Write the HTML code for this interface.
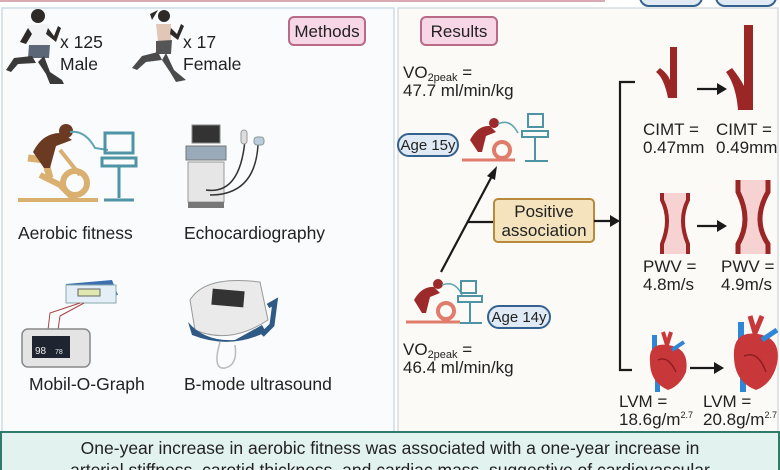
<!DOCTYPE html>
<html><head><meta charset="utf-8"><style>
html,body{margin:0;padding:0;background:#fff;}
svg{display:block;font-family:"Liberation Sans",Arial,sans-serif;}
</style></head><body>
<svg width="780" height="470" viewBox="0 0 780 470" xmlns="http://www.w3.org/2000/svg">
<rect width="780" height="470" fill="#ffffff"/>
<rect x="0" y="0" width="605" height="2" fill="#d9a9b4"/>
<rect x="640" y="-12" width="62" height="18" rx="9" fill="#dfeaf5" stroke="#35618f" stroke-width="2"/>
<rect x="716" y="-12" width="60" height="18" rx="9" fill="#dfeaf5" stroke="#35618f" stroke-width="2"/>
<rect x="2" y="8" width="392" height="428" fill="#f9fbfc" stroke="#cfdbe4" stroke-width="1.5"/>
<rect x="398" y="8" width="380" height="428" fill="#fcfaf6" stroke="#d8dde2" stroke-width="1.5"/>

<!-- male runner -->
<g>
<circle cx="38" cy="16" r="7" fill="#2e2a28"/>
<path d="M27 25 L48 24 L50 45 L30 47 Z" fill="#f1f3f5"/>
<path d="M29 45 L50 45 L49 58 L28 58 Z" fill="#5b6776"/>
<path d="M32 56 L14 58 L6 70 L11 72 L18 64 L36 63 Z" fill="#3a3a3a"/>
<path d="M44 56 L50 72 L62 80 L64 84 L50 84 L46 74 L38 62 Z" fill="#3a3a3a"/>
<path d="M48 28 L54 36 L58 26 L61 28 L56 42 L46 34 Z" fill="#2e2a28"/>
<path d="M28 28 L20 42 L26 44 L32 34 Z" fill="#2e2a28"/>
</g>
<text x="60" y="48" font-size="17.5" fill="#222">x 125</text>
<text x="60" y="70" font-size="17.5" fill="#222">Male</text>
<!-- female runner -->
<g>
<circle cx="164" cy="16" r="6" fill="#2e2a28"/>
<path d="M158 10 L150 14 L152 20 Z" fill="#2e2a28"/>
<path d="M156 24 L171 24 L171 40 L158 42 Z" fill="#e2c6b6"/>
<path d="M156 41 L172 40 L171 54 L156 54 Z" fill="#555"/>
<path d="M158 52 L142 56 L132 68 L137 70 L146 62 L162 60 Z" fill="#4b4b4b"/>
<path d="M166 53 L174 70 L186 80 L176 82 L170 72 L162 60 Z" fill="#4b4b4b"/>
<path d="M171 28 L177 34 L181 24 L184 26 L178 40 L170 34 Z" fill="#2e2a28"/>
</g>
<text x="183" y="48" font-size="17.5" fill="#222">x 17</text>
<text x="183" y="70" font-size="17.5" fill="#222">Female</text>
<rect x="289" y="17" width="76" height="28" rx="5" fill="#f7d6e6" stroke="#b86a86" stroke-width="2"/>
<text x="327" y="37" font-size="17" fill="#222" text-anchor="middle">Methods</text>

<!-- aerobic bike -->
<g>
<path d="M18 200 L98 200" stroke="#d9b070" stroke-width="4"/>
<path d="M40 175 L60 185 L75 200" stroke="#d9b070" stroke-width="6" fill="none"/>
<circle cx="75" cy="183" r="12" fill="none" stroke="#d9b070" stroke-width="6"/>
<path d="M28 158 L45 160 L50 178" stroke="#d9b070" stroke-width="7" fill="none"/>
<path d="M60 150 L80 175" stroke="#d9b070" stroke-width="4"/>
<path d="M33 152 Q43 132 62 133 L72 140 L56 146 L50 168 L44 168 Z" fill="#6b3a22"/>
<circle cx="66" cy="131" r="7" fill="#6b3a22"/>
<path d="M70 132 Q85 130 95 148 L108 150" stroke="#5fa3b3" stroke-width="2" fill="none"/>
<rect x="105" y="133" width="28" height="20" fill="none" stroke="#4e94a4" stroke-width="3"/>
<rect x="102" y="158" width="34" height="8" fill="none" stroke="#4e94a4" stroke-width="3"/>
<path d="M119 166 L119 198 M104 200 L134 200" stroke="#4e94a4" stroke-width="3"/>
</g>
<text x="18" y="239" font-size="17.5" fill="#222">Aerobic fitness</text>
<!-- echo -->
<g>
<rect x="192" y="125" width="28" height="18" fill="#333" stroke="#888"/>
<rect x="186" y="146" width="40" height="14" fill="#9ab" stroke="#777"/>
<rect x="188" y="162" width="36" height="40" fill="#e6e6e6" stroke="#999"/>
<rect x="188" y="202" width="36" height="6" fill="#777"/>
<path d="M206 190 Q240 195 245 140 M210 195 Q255 195 258 145" stroke="#333" stroke-width="1.5" fill="none"/>
<rect x="241" y="130" width="6" height="14" rx="3" fill="#ddd" stroke="#999"/>
<rect x="254" y="137" width="10" height="8" rx="3" fill="#bcd" stroke="#899"/>
</g>
<text x="184" y="239" font-size="17.5" fill="#222">Echocardiography</text>
<!-- mobil-o-graph -->
<g>
<path d="M66 284 L112 280 L118 295 L68 300 Z" fill="#3c6fb0"/>
<rect x="66" y="285" width="50" height="18" fill="#e4eef7" stroke="#8aa"/>
<rect x="78" y="289" width="22" height="7" fill="#dfe8b0" stroke="#666"/>
<path d="M80 303 L50 313 L48 330 M84 303 L60 316 L58 330" stroke="#a44" stroke-width="1" fill="none"/>
<rect x="22" y="329" width="68" height="38" rx="6" fill="#e4e4e4" stroke="#888" stroke-width="1.5"/>
<rect x="32" y="336" width="38" height="22" fill="#1e2430"/>
<text x="35" y="354" font-size="10" fill="#eee">98</text><text x="55" y="354" font-size="7" fill="#eee">78</text>
</g>
<text x="29" y="390" font-size="17.5" fill="#222">Mobil-O-Graph</text>
<!-- b-mode -->
<g>
<path d="M190 300 Q205 275 260 282 L268 320 Q230 345 195 330 Z" fill="#eaeaea" stroke="#999"/>
<rect x="212" y="290" width="32" height="16" fill="#333" transform="rotate(5 228 298)"/>
<path d="M188 322 Q205 342 235 340 L262 325 L266 332 Q230 350 192 335 Z" fill="#2f5a86"/>
<path d="M268 306 L275 302 L272 325 L262 335" stroke="#2f5a86" stroke-width="5" fill="none"/>
<path d="M220 342 Q212 370 225 368 Q238 365 235 345" stroke="#bbb" stroke-width="1.5" fill="none"/>
</g>
<text x="184" y="390" font-size="17.5" fill="#222">B-mode ultrasound</text>

<!-- RIGHT -->
<rect x="421" y="17" width="76" height="28" rx="5" fill="#f7d6e6" stroke="#b86a86" stroke-width="2"/>
<text x="459" y="37" font-size="17" fill="#222" text-anchor="middle">Results</text>
<text x="403" y="78" font-size="17" fill="#222">VO<tspan font-size="11" dy="3">2peak</tspan><tspan dy="-3"> =</tspan></text>
<text x="403" y="96" font-size="17" fill="#222">47.7 ml/min/kg</text>
<rect x="398" y="134" width="60" height="22" rx="11" fill="#dfeaf5" stroke="#35618f" stroke-width="2"/>
<text x="428" y="150" font-size="15" fill="#222" text-anchor="middle">Age 15y</text>
<g>
<path d="M462 160 L515 160" stroke="#e07c6c" stroke-width="3"/>
<circle cx="502" cy="150" r="8" fill="none" stroke="#e07c6c" stroke-width="4"/>
<path d="M470 140 Q478 125 490 126 L496 132 L486 136 L482 152 L478 152 Z" fill="#9c2a2a"/>
<circle cx="494" cy="123" r="5" fill="#9c2a2a"/>
<path d="M498 124 Q510 118 518 133" stroke="#5fa3b3" stroke-width="1.5" fill="none"/>
<rect x="528" y="114" width="15" height="13" fill="none" stroke="#4e94a4" stroke-width="2"/>
<rect x="522" y="131" width="26" height="6" fill="none" stroke="#4e94a4" stroke-width="2"/>
<path d="M535 137 L535 160 M525 161 L548 161" stroke="#4e94a4" stroke-width="2"/>
</g>
<path d="M441 272 L492 176" stroke="#1a1a1a" stroke-width="2.2"/>
<path d="M497 166 L487 176 L495 180 Z" fill="#1a1a1a"/>
<path d="M467 222 L494 222" stroke="#1a1a1a" stroke-width="2.2"/>
<rect x="494" y="199" width="100" height="43" rx="4" fill="#f4e3bd" stroke="#b88a3c" stroke-width="2"/>
<text x="544" y="217" font-size="17" fill="#222" text-anchor="middle">Positive</text>
<text x="544" y="236" font-size="17" fill="#222" text-anchor="middle">association</text>
<path d="M594 221 L612 221" stroke="#1a1a1a" stroke-width="2.2"/>
<path d="M620 221 L610 215 L610 227 Z" fill="#1a1a1a"/>
<path d="M635 82 L620 82 L620 370 L632 370" stroke="#1a1a1a" stroke-width="2.2" fill="none"/>
<g>
<path d="M406 322 L460 322" stroke="#e07c6c" stroke-width="3"/>
<circle cx="446" cy="311" r="8" fill="none" stroke="#e07c6c" stroke-width="4"/>
<path d="M414 300 Q422 286 434 287 L440 293 L430 297 L426 313 L422 313 Z" fill="#9c2a2a"/>
<circle cx="438" cy="284" r="5" fill="#9c2a2a"/>
<path d="M442 285 Q455 280 462 295" stroke="#5fa3b3" stroke-width="1.5" fill="none"/>
<rect x="461" y="281" width="15" height="12" fill="none" stroke="#4e94a4" stroke-width="2"/>
<rect x="458" y="296" width="24" height="6" fill="none" stroke="#4e94a4" stroke-width="2"/>
<path d="M470 302 L470 322 M460 323 L482 323" stroke="#4e94a4" stroke-width="2"/>
</g>
<rect x="488" y="306" width="62" height="22" rx="11" fill="#dfeaf5" stroke="#35618f" stroke-width="2"/>
<text x="519" y="322" font-size="15" fill="#222" text-anchor="middle">Age 14y</text>
<text x="403" y="355" font-size="17" fill="#222">VO<tspan font-size="11" dy="3">2peak</tspan><tspan dy="-3"> =</tspan></text>
<text x="403" y="373" font-size="17" fill="#222">46.4 ml/min/kg</text>

<g fill="#9a2626">
<path d="M670 47 L677 47 L677 98 L668 98 Q664 78 656 72 L660 68 Q668 74 670 80 Z"/>
<path d="M744 25 L753 25 L753 110 L738 110 Q736 85 726 72 L732 68 Q740 78 744 86 Z"/>
</g>
<path d="M697 89 L718 89" stroke="#1a1a1a" stroke-width="2.2"/><path d="M727 89 L717 83 L717 95 Z" fill="#1a1a1a"/>
<text x="643" y="135" font-size="17" fill="#222">CIMT =</text>
<text x="643" y="153" font-size="17" fill="#222">0.47mm</text>
<text x="716" y="135" font-size="17" fill="#222">CIMT =</text>
<text x="716" y="153" font-size="17" fill="#222">0.49mm</text>
<g>
<path d="M662 193 L688 193 L688 200 Q678 220 688 244 L688 254 L662 254 L662 244 Q672 220 662 200 Z" fill="#f7d2d2"/>
<path d="M662 193 L662 200 Q672 220 662 244 L662 254 M688 193 L688 200 Q678 220 688 244 L688 254" stroke="#9a2626" stroke-width="4" fill="none"/>
<path d="M738 180 L768 180 L768 192 Q752 220 768 244 L768 254 L738 254 L738 244 Q752 220 738 192 Z" fill="#f7d2d2"/>
<path d="M738 180 L738 192 Q752 220 738 244 L738 254 M768 180 L768 192 Q752 220 768 244 L768 254" stroke="#9a2626" stroke-width="5" fill="none"/>
</g>
<path d="M697 226 L718 226" stroke="#1a1a1a" stroke-width="2.2"/><path d="M727 226 L717 220 L717 232 Z" fill="#1a1a1a"/>
<text x="643" y="272" font-size="17" fill="#222">PWV =</text>
<text x="643" y="290" font-size="17" fill="#222">4.8m/s</text>
<text x="721" y="272" font-size="17" fill="#222">PWV =</text>
<text x="721" y="290" font-size="17" fill="#222">4.9m/s</text>
<!-- hearts -->
<g>
<rect x="652" y="335" width="5" height="18" fill="#2f86d6"/>
<rect x="655" y="380" width="5" height="12" fill="#2f86d6"/>
<path d="M663 332 L667 345 L671 332" stroke="#c8383a" stroke-width="4" fill="none"/>
<path d="M650 362 Q648 342 668 345 Q690 348 686 372 Q680 386 668 390 Q650 382 650 362 Z" fill="#c8383a"/>
<path d="M672 350 L684 342" stroke="#2f86d6" stroke-width="4"/>
<path d="M658 360 Q668 355 676 372" stroke="#8e1e22" stroke-width="1.5" fill="none"/>
<rect x="738" y="322" width="6" height="26" fill="#2f86d6"/>
<rect x="740" y="376" width="6" height="16" fill="#2f86d6"/>
<path d="M750 316 L755 333 L762 316" stroke="#c8383a" stroke-width="5" fill="none"/>
<path d="M734 358 Q732 330 758 334 Q782 338 777 364 Q772 384 756 390 Q735 382 734 358 Z" fill="#c8383a"/>
<path d="M762 340 L777 330" stroke="#2f86d6" stroke-width="5"/>
<path d="M744 356 Q758 350 766 372" stroke="#8e1e22" stroke-width="1.5" fill="none"/>
</g>
<path d="M690 368 L714 368" stroke="#1a1a1a" stroke-width="2.2"/><path d="M724 368 L714 362 L714 374 Z" fill="#1a1a1a"/>
<text x="619" y="407" font-size="17" fill="#222">LVM =</text>
<text x="619" y="425" font-size="17" fill="#222">18.6g/m<tspan font-size="9" dy="-7">2.7</tspan></text>
<text x="703" y="407" font-size="17" fill="#222">LVM =</text>
<text x="703" y="425" font-size="17" fill="#222">20.8g/m<tspan font-size="9" dy="-7">2.7</tspan></text>

<rect x="1" y="432" width="778" height="40" fill="#e2f2ee" stroke="#2f7a68" stroke-width="2"/>
<text x="390" y="454" font-size="17.5" fill="#222" text-anchor="middle">One-year increase in aerobic fitness was associated with a one-year increase in</text>
<text x="390" y="476" font-size="17.5" fill="#222" text-anchor="middle">arterial stiffness, carotid thickness, and cardiac mass, suggestive of cardiovascular</text>
</svg>
</body></html>
